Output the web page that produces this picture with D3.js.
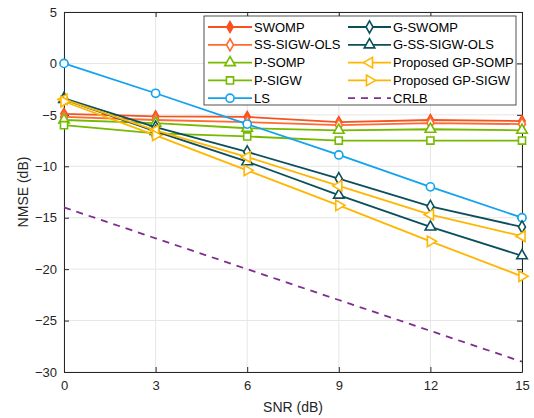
<!DOCTYPE html>
<html lang="en">
<head>
  <meta charset="UTF-8">
  <title>NMSE vs SNR</title>
  <style>
    * { margin: 0; padding: 0; }
    body { background: #fff; }
    svg { display: block; font-family: "Liberation Sans", Arial, sans-serif; }
  </style>
</head>
<body>
  <svg id="svg"></svg>
  <script src="https://cdnjs.cloudflare.com/ajax/libs/d3/7.8.5/d3.min.js"></script>
  <script>
    // data (dB)
    const snr = [0, 3, 6, 9, 12, 15];
    const swomp = [-4.9, -5.15, -5.2, -5.7, -5.5, -5.6];
    const ssSigwOls = [-5.2, -5.5, -5.7, -6.0, -5.8, -5.9];
    const pSomp = [-5.5, -5.8, -6.3, -6.5, -6.4, -6.5];
    const pSigw = [-6.0, -6.8, -7.1, -7.5, -7.5, -7.5];
    const ls = [0, -2.9, -5.9, -8.9, -12.0, -15.0];
    const gSwomp = [-3.4, -6.2, -8.6, -11.2, -13.9, -15.9];
    const gSsSigwOls = [-3.5, -6.6, -9.55, -12.8, -15.9, -18.7];
    const gpSomp = [-3.5, -6.5, -9.1, -11.9, -14.7, -16.8];
    const gpSigw = [-3.7, -7.0, -10.4, -13.8, -17.3, -20.7];
    const crlb = [-14, -17, -20, -23, -26, -29];

    const xTicks = [0, 3, 6, 9, 12, 15];
    const yTicks = [5, 0, -5, -10, -15, -20, -25, -30];

    const series = [
      { name: 'SWOMP', values: swomp, color: '#f8521f', marker: 'diamond', filled: true },
      { name: 'SS-SIGW-OLS', values: ssSigwOls, color: '#ff6a30', marker: 'diamond' },
      { name: 'P-SOMP', values: pSomp, color: '#77b900', marker: 'up' },
      { name: 'P-SIGW', values: pSigw, color: '#77b900', marker: 'square' },
      { name: 'LS', values: ls, color: '#12a3ee', marker: 'circle' },
      { name: 'G-SWOMP', values: gSwomp, color: '#0b4f5c', marker: 'diamond' },
      { name: 'G-SS-SIGW-OLS', values: gSsSigwOls, color: '#0b4f5c', marker: 'up' },
      { name: 'Proposed GP-SOMP', values: gpSomp, color: '#ffb600', marker: 'left' },
      { name: 'Proposed GP-SIGW', values: gpSigw, color: '#ffb600', marker: 'right' },
      { name: 'CRLB', values: crlb, color: '#7e2f8e', marker: null, dash: '7,6' }
    ];

    const width = 534, height = 418;
    const margin = { top: 12, right: 12, bottom: 46, left: 64 };

    const svg = d3.select('#svg').attr('width', width).attr('height', height);

    const x = d3.scaleLinear().domain([0, 15]).range([margin.left, width - margin.right]);
    const y = d3.scaleLinear().domain([-30, 5]).range([height - margin.bottom, margin.top]);

    // grid
    const grid = svg.append('g').attr('stroke', '#e6e6e6').attr('stroke-width', 1);
    grid.selectAll('.gx').data(xTicks).join('line')
      .attr('x1', d => x(d)).attr('x2', d => x(d))
      .attr('y1', y(-30)).attr('y2', y(5));
    grid.selectAll('.gy').data(yTicks).join('line')
      .attr('y1', d => y(d)).attr('y2', d => y(d))
      .attr('x1', x(0)).attr('x2', x(15));

    // axes, MATLAB-like: ticks pointing inwards on all four sides
    const axisColor = '#262626';
    const styleAxis = g => {
      g.select('.domain').attr('stroke', axisColor);
      g.selectAll('.tick line').attr('stroke', axisColor);
      g.selectAll('.tick text').attr('fill', axisColor).style('font-size', '13px');
    };
    svg.append('g').attr('transform', `translate(0,${y(-30)})`)
      .call(d3.axisBottom(x).tickValues(xTicks).tickSize(-5).tickSizeOuter(0).tickPadding(9))
      .call(styleAxis);
    svg.append('g').attr('transform', `translate(0,${y(5)})`)
      .call(d3.axisTop(x).tickValues(xTicks).tickSize(-5).tickSizeOuter(0).tickFormat(''))
      .call(styleAxis);
    svg.append('g').attr('transform', `translate(${x(0)},0)`)
      .call(d3.axisLeft(y).tickValues(yTicks).tickSize(-5).tickSizeOuter(0).tickPadding(7))
      .call(styleAxis);
    svg.append('g').attr('transform', `translate(${x(15)},0)`)
      .call(d3.axisRight(y).tickValues(yTicks).tickSize(-5).tickSizeOuter(0).tickFormat(''))
      .call(styleAxis);

    svg.append('text').attr('x', (x(0) + x(15)) / 2).attr('y', 412)
      .attr('text-anchor', 'middle').attr('fill', axisColor).style('font-size', '14px')
      .text('SNR (dB)');
    svg.append('text')
      .attr('transform', `translate(28,${(y(-30) + y(5)) / 2}) rotate(-90)`)
      .attr('text-anchor', 'middle').attr('fill', axisColor).style('font-size', '14px')
      .text('NMSE (dB)');

    const symbolFor = {
      circle: { type: d3.symbolCircle, size: 52, rot: 0 },
      square: { type: d3.symbolSquare, size: 50, rot: 0 },
      diamond: { type: d3.symbolDiamond, size: 42, rot: 0 },
      up: { type: d3.symbolTriangle, size: 48, rot: 0 },
      left: { type: d3.symbolTriangle, size: 48, rot: -90 },
      right: { type: d3.symbolTriangle, size: 48, rot: 90 }
    };

    function drawMarker(g, s, cx, cy) {
      if (!s.marker) return;
      const m = symbolFor[s.marker];
      g.append('path')
        .attr('d', d3.symbol(m.type, s.filled ? 34 : m.size)())
        .attr('transform', `translate(${cx},${cy}) rotate(${m.rot})`)
        .attr('fill', s.filled ? s.color : '#fff')
        .attr('stroke', s.color)
        .attr('stroke-width', 1.6);
    }

    const line = d3.line().x((d, i) => x(snr[i])).y(d => y(d));
    const plot = svg.append('g');
    series.forEach(s => {
      const g = plot.append('g');
      g.append('path').datum(s.values)
        .attr('d', line)
        .attr('fill', 'none')
        .attr('stroke', s.color)
        .attr('stroke-width', 1.8)
        .attr('stroke-dasharray', s.dash || null);
      s.values.forEach((v, i) => drawMarker(g, s, x(snr[i]), y(v)));
    });

    // legend
    const lg = svg.append('g');
    lg.append('rect').attr('x', 204).attr('y', 16).attr('width', 312).attr('height', 89)
      .attr('fill', '#fff').attr('stroke', axisColor).attr('stroke-width', 0.8);
    const cols = [{ lx: 208, tx: 254 }, { lx: 348, tx: 393 }];
    series.forEach((s, i) => {
      const c = cols[Math.floor(i / 5)];
      const ry = 27 + (i % 5) * 17.8;
      const item = lg.append('g');
      item.append('line').attr('x1', c.lx).attr('x2', c.tx - 2)
        .attr('y1', ry).attr('y2', ry)
        .attr('stroke', s.color).attr('stroke-width', 1.8)
        .attr('stroke-dasharray', s.dash || null);
      drawMarker(item, s, (c.lx + c.tx - 2) / 2, ry);
      item.append('text').attr('x', c.tx).attr('y', ry).attr('dy', '0.35em')
        .attr('fill', '#000').style('font-size', '13px').text(s.name);
    });
  </script>
</body>
</html>
